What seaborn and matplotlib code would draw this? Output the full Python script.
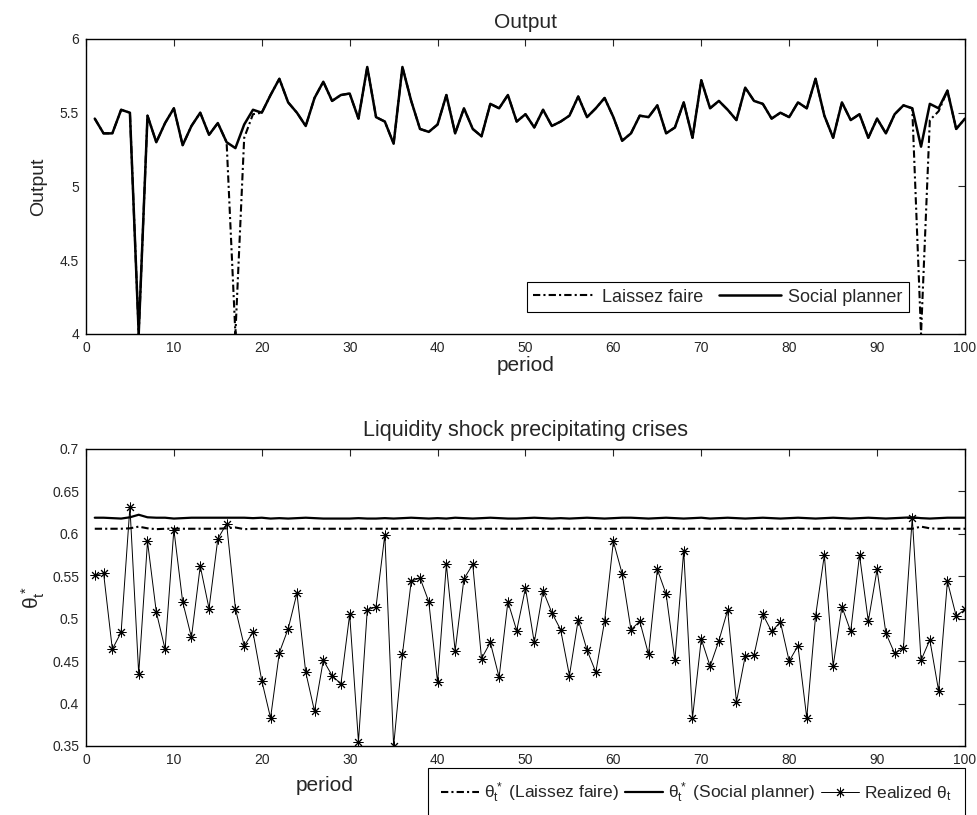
import matplotlib
matplotlib.use("Agg")
import matplotlib.pyplot as plt
import seaborn as sns
from matplotlib.ticker import FuncFormatter

sns.set_style("white")
plt.rcParams['font.family'] = ['Liberation Sans', 'DejaVu Sans']
plt.rcParams['mathtext.fontset'] = 'custom'
plt.rcParams['mathtext.rm'] = 'Liberation Sans'
plt.rcParams['mathtext.it'] = 'Liberation Sans'
plt.rcParams['axes.edgecolor'] = 'black'
plt.rcParams['axes.linewidth'] = 1.0

periods = list(range(1, 101))

# output, social planner
output_sp = [5.46, 5.36, 5.36, 5.52, 5.50, 4.00, 5.48, 5.30, 5.43, 5.53,
             5.28, 5.41, 5.50, 5.35, 5.43, 5.30, 5.26, 5.42, 5.52, 5.50,
             5.62, 5.73, 5.57, 5.50, 5.41, 5.60, 5.71, 5.58, 5.62, 5.63,
             5.46, 5.81, 5.47, 5.44, 5.29, 5.81, 5.58, 5.39, 5.37, 5.42,
             5.62, 5.36, 5.53, 5.39, 5.34, 5.56, 5.53, 5.62, 5.44, 5.49,
             5.40, 5.52, 5.41, 5.44, 5.48, 5.61, 5.47, 5.53, 5.60, 5.47,
             5.31, 5.36, 5.48, 5.47, 5.55, 5.36, 5.40, 5.57, 5.33, 5.72,
             5.53, 5.58, 5.52, 5.45, 5.67, 5.58, 5.56, 5.46, 5.50, 5.47,
             5.57, 5.53, 5.73, 5.48, 5.33, 5.57, 5.45, 5.49, 5.33, 5.46,
             5.36, 5.49, 5.55, 5.53, 5.27, 5.56, 5.53, 5.65, 5.39, 5.46]

# output, laissez faire
output_lf = [5.46, 5.36, 5.36, 5.52, 5.50, 4.00, 5.48, 5.30, 5.43, 5.53,
             5.28, 5.41, 5.50, 5.35, 5.43, 5.30, 4.00, 5.33, 5.49, 5.50,
             5.62, 5.73, 5.57, 5.50, 5.41, 5.60, 5.71, 5.58, 5.62, 5.63,
             5.46, 5.81, 5.47, 5.44, 5.29, 5.81, 5.58, 5.39, 5.37, 5.42,
             5.62, 5.36, 5.53, 5.39, 5.34, 5.56, 5.53, 5.62, 5.44, 5.49,
             5.40, 5.52, 5.41, 5.44, 5.48, 5.61, 5.47, 5.53, 5.60, 5.47,
             5.31, 5.36, 5.48, 5.47, 5.55, 5.36, 5.40, 5.57, 5.33, 5.72,
             5.53, 5.58, 5.52, 5.45, 5.67, 5.58, 5.56, 5.46, 5.50, 5.47,
             5.57, 5.53, 5.73, 5.48, 5.33, 5.57, 5.45, 5.49, 5.33, 5.46,
             5.36, 5.49, 5.55, 5.53, 4.00, 5.45, 5.51, 5.65, 5.39, 5.46]

# thresholds theta*_t
theta_lf = [0.606, 0.606, 0.606, 0.606, 0.6065, 0.6085, 0.6065, 0.6055, 0.606, 0.606,
            0.606, 0.606, 0.606, 0.606, 0.606, 0.6065, 0.6075, 0.6055, 0.606, 0.606,
            0.606, 0.606, 0.606, 0.606, 0.606, 0.606, 0.606, 0.606, 0.606, 0.606,
            0.606, 0.606, 0.606, 0.606, 0.606, 0.606, 0.606, 0.606, 0.606, 0.606,
            0.606, 0.606, 0.606, 0.606, 0.606, 0.606, 0.606, 0.606, 0.606, 0.606,
            0.606, 0.606, 0.606, 0.606, 0.606, 0.606, 0.606, 0.606, 0.606, 0.606,
            0.606, 0.606, 0.606, 0.606, 0.606, 0.606, 0.606, 0.606, 0.606, 0.606,
            0.606, 0.606, 0.606, 0.606, 0.606, 0.606, 0.606, 0.606, 0.606, 0.606,
            0.606, 0.606, 0.606, 0.606, 0.606, 0.606, 0.606, 0.606, 0.606, 0.606,
            0.606, 0.606, 0.606, 0.606, 0.6085, 0.6065, 0.606, 0.606, 0.606, 0.606]

theta_sp = [0.619, 0.619, 0.6185, 0.618, 0.6195, 0.6225, 0.6195, 0.619, 0.619, 0.618,
            0.6185, 0.619, 0.619, 0.619, 0.619, 0.619, 0.619, 0.619, 0.6185, 0.619,
            0.618, 0.6185, 0.618, 0.6185, 0.619, 0.6185, 0.618, 0.618, 0.618, 0.618,
            0.6185, 0.618, 0.618, 0.6185, 0.618, 0.6185, 0.619, 0.6185, 0.618, 0.6185,
            0.618, 0.619, 0.6185, 0.618, 0.6185, 0.619, 0.6185, 0.618, 0.618, 0.6185,
            0.619, 0.6185, 0.618, 0.6185, 0.618, 0.6185, 0.619, 0.6185, 0.618, 0.6185,
            0.619, 0.619, 0.6185, 0.618, 0.6185, 0.619, 0.6185, 0.618, 0.6185, 0.619,
            0.618, 0.6185, 0.619, 0.6185, 0.618, 0.6185, 0.619, 0.6185, 0.618, 0.6185,
            0.619, 0.6185, 0.618, 0.6185, 0.619, 0.6185, 0.618, 0.6185, 0.619, 0.6185,
            0.618, 0.6185, 0.619, 0.6195, 0.6185, 0.618, 0.6185, 0.619, 0.619, 0.619]

theta_real = [0.551, 0.554, 0.464, 0.484, 0.632, 0.435, 0.591, 0.508, 0.464, 0.605,
              0.520, 0.478, 0.562, 0.512, 0.594, 0.612, 0.512, 0.468, 0.484, 0.427,
              0.383, 0.460, 0.488, 0.530, 0.437, 0.391, 0.451, 0.433, 0.423, 0.505,
              0.355, 0.510, 0.514, 0.599, 0.350, 0.458, 0.544, 0.548, 0.520, 0.425,
              0.564, 0.462, 0.547, 0.564, 0.453, 0.472, 0.431, 0.520, 0.486, 0.536,
              0.472, 0.533, 0.507, 0.487, 0.433, 0.499, 0.463, 0.437, 0.497, 0.591,
              0.553, 0.487, 0.497, 0.458, 0.558, 0.529, 0.451, 0.580, 0.383, 0.476,
              0.444, 0.474, 0.510, 0.402, 0.456, 0.457, 0.505, 0.485, 0.496, 0.450,
              0.468, 0.383, 0.503, 0.575, 0.444, 0.514, 0.485, 0.575, 0.497, 0.558,
              0.483, 0.459, 0.466, 0.619, 0.451, 0.475, 0.415, 0.544, 0.503, 0.511]

x_ticks = [0, 10, 20, 30, 40, 50, 60, 70, 80, 90, 100]
y_ticks_top = [4, 4.5, 5, 5.5, 6]
y_ticks_bot = [0.35, 0.4, 0.45, 0.5, 0.55, 0.6, 0.65, 0.7]

dashdot = (0, (3.5, 1.5, 1, 1.5))
fmt = FuncFormatter(lambda v, p: f"{v:g}")

fig = plt.figure(figsize=(9.78, 8.15), dpi=100)
ax1 = fig.add_axes([0.0879, 0.5902, 0.8988, 0.362])
ax2 = fig.add_axes([0.0879, 0.0847, 0.8988, 0.3644])

# top panel
sns.lineplot(x=periods, y=output_lf, ax=ax1, color='k', lw=1.5,
             linestyle=dashdot, label='Laissez faire')
sns.lineplot(x=periods, y=output_sp, ax=ax1, color='k', lw=1.8,
             label='Social planner')
ax1.set_xlim(0, 100)
ax1.set_ylim(4, 6)
ax1.set_yticks(y_ticks_top)
ax1.set_title('Output', fontsize=15, pad=8)
ax1.set_ylabel('Output', fontsize=14)
ax1.set_xlabel('period', fontsize=15)
ax1.legend(loc='lower right', bbox_to_anchor=(0.936, 0.075), ncol=2,
           fontsize=13, frameon=True, fancybox=False, edgecolor='k',
           framealpha=1, borderaxespad=0, handlelength=3.4,
           handletextpad=0.4, columnspacing=0.9, borderpad=0.35)
ax1.get_legend().get_frame().set_linewidth(0.8)

# bottom panel
sns.lineplot(x=periods, y=theta_lf, ax=ax2, color='k', lw=1.5,
             linestyle=dashdot, label=r'$\theta^*_t$ (Laissez faire)')
sns.lineplot(x=periods, y=theta_sp, ax=ax2, color='k', lw=1.6,
             label=r'$\theta^*_t$ (Social planner)')
sns.lineplot(x=periods, y=theta_real, ax=ax2, color='k', lw=0.7,
             marker=(8, 2, 0), markersize=7, markeredgewidth=0.7,
             markeredgecolor='k', label=r'Realized $\theta_t$')
ax2.set_xlim(0, 100)
ax2.set_ylim(0.35, 0.7)
ax2.set_yticks(y_ticks_bot)
ax2.set_title('Liquidity shock precipitating crises', fontsize=15.5, pad=9)
ax2.set_ylabel(r'$\theta^*_t$', fontsize=15)
ax2.set_xlabel('period', fontsize=15)
ax2.xaxis.set_label_coords(0.272, -0.1)

handles, labels = ax2.get_legend_handles_labels()
ax2.get_legend().remove()
leg = fig.legend(handles, labels, loc='upper left',
                 bbox_to_anchor=(428 / 978, 1 - 768 / 815), ncol=3,
                 fontsize=12.5, frameon=True, fancybox=False, edgecolor='k',
                 framealpha=1, borderaxespad=0, handlelength=2.2,
                 handletextpad=0.3, columnspacing=0.3, borderpad=0.75)
leg.get_frame().set_linewidth(0.8)

for ax in (ax1, ax2):
    ax.set_xticks(x_ticks)
    ax.xaxis.set_major_formatter(fmt)
    ax.yaxis.set_major_formatter(fmt)
    ax.tick_params(direction='in', top=True, right=True, length=5,
                   width=0.8, labelsize=10, pad=5)
    ax.yaxis.set_label_coords(-0.044, 0.5)
    for s in ax.spines.values():
        s.set_visible(True)
        s.set_linewidth(1.0)

ax1.xaxis.set_label_coords(0.5, -0.075)

fig.savefig('out.png', dpi=100)
